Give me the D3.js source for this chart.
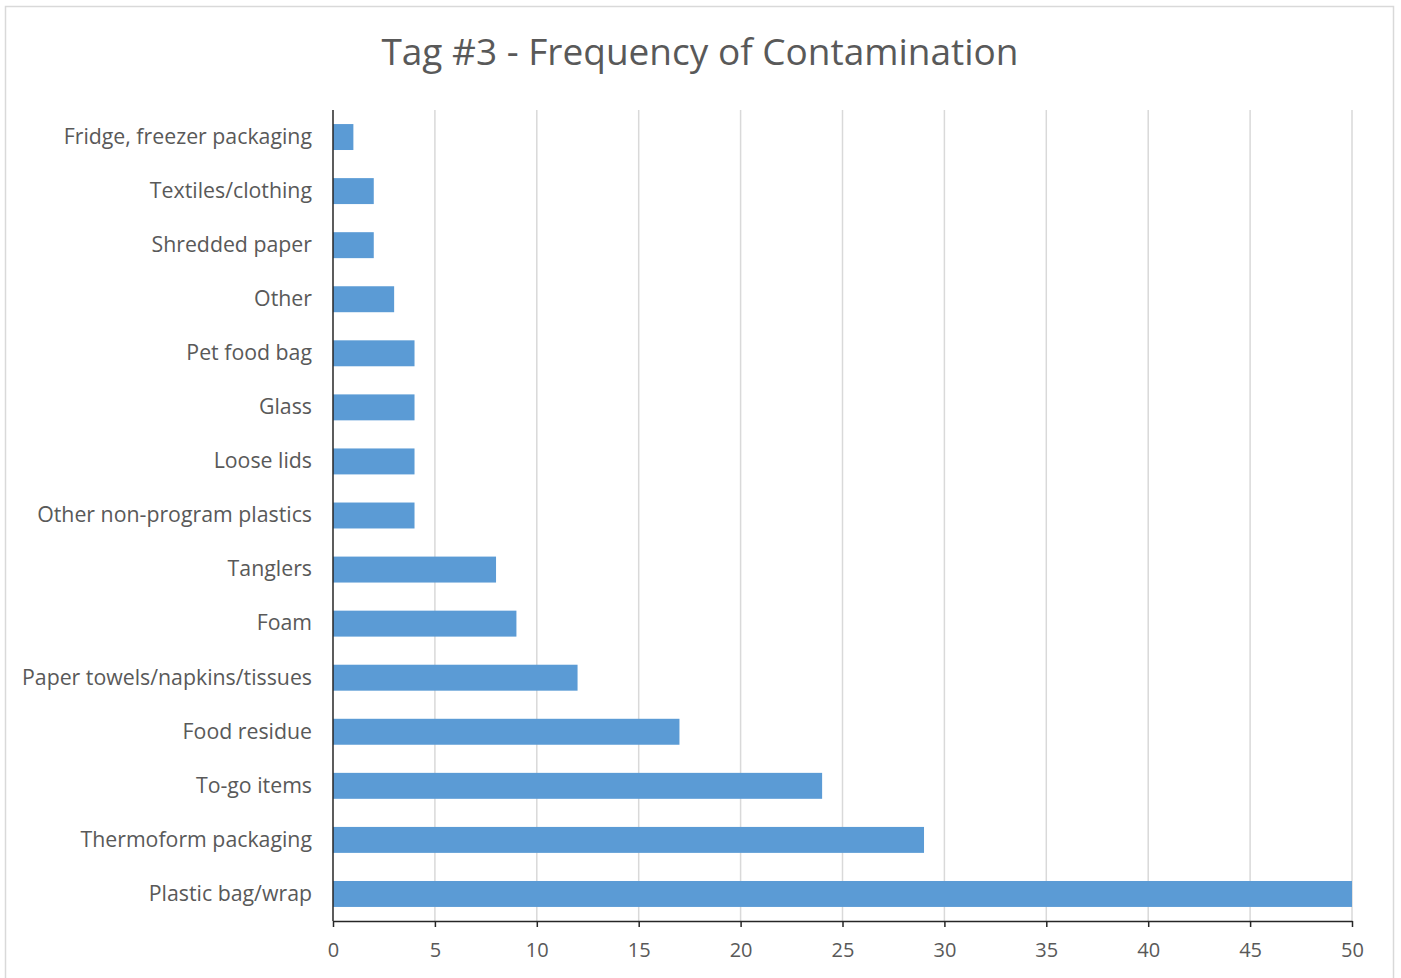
<!DOCTYPE html>
<html>
<head>
<meta charset="utf-8">
<script src="https://cdn.jsdelivr.net/npm/d3@7"></script>
<style>
  html, body { margin: 0; padding: 0; background: #fff; }
  svg { display: block; }
</style>
</head>
<body>
<svg id="chart" width="1401" height="978"></svg>
<script>
// Contamination categories, top to bottom
const categories = [
  "Fridge, freezer packaging",
  "Textiles/clothing",
  "Shredded paper",
  "Other",
  "Pet food bag",
  "Glass",
  "Loose lids",
  "Other non-program plastics",
  "Tanglers",
  "Foam",
  "Paper towels/napkins/tissues",
  "Food residue",
  "To-go items",
  "Thermoform packaging",
  "Plastic bag/wrap"
];
// Number of occurrences per category
const counts = [1, 2, 2, 3, 4, 4, 4, 4, 8, 9, 12, 17, 24, 29, 50];
const xTicks = [0, 5, 10, 15, 20, 25, 30, 35, 40, 45, 50];
const titleText = "Tag #3 - Frequency of Contamination";

const svg = d3.select("#chart");
const W = 1401, H = 978;
const margin = { left: 333, right: 49, top: 110, bottom: 57 };
const fontFamily = "'Open Sans', 'Noto Sans', sans-serif";
const textColor = "#595959";

// chart frame
svg.append("rect")
  .attr("x", 5.5).attr("y", 6.5)
  .attr("width", 1388).attr("height", 980)
  .attr("fill", "#fff").attr("stroke", "#d9d9d9").attr("stroke-width", 1.5);

const x = d3.scaleLinear().domain([0, 50]).range([margin.left, W - margin.right]);
const y = d3.scaleBand().domain(categories)
  .range([margin.top, H - margin.bottom]).paddingInner(0.52).paddingOuter(0.26);

// vertical gridlines
svg.append("g").selectAll("line")
  .data(xTicks.filter(t => t > 0))
  .join("line")
  .attr("x1", d => x(d)).attr("x2", d => x(d))
  .attr("y1", margin.top).attr("y2", H - margin.bottom)
  .attr("stroke", "#d9d9d9").attr("stroke-width", 1.5);

// bars
svg.append("g").selectAll("rect")
  .data(categories.map((c, i) => ({ c, v: counts[i] })))
  .join("rect")
  .attr("x", x(0))
  .attr("y", d => y(d.c))
  .attr("width", d => x(d.v) - x(0))
  .attr("height", y.bandwidth())
  .attr("fill", "#5b9bd5");

// x axis
const xAxis = svg.append("g")
  .attr("transform", `translate(0,${H - margin.bottom})`)
  .call(d3.axisBottom(x).tickValues(xTicks).tickSize(6).tickSizeOuter(0).tickPadding(16));
xAxis.select(".domain").attr("stroke", "#262626").attr("stroke-width", 1.5);
xAxis.selectAll(".tick line").attr("stroke", "#262626").attr("stroke-width", 1.5);
xAxis.selectAll("text")
  .attr("fill", textColor).attr("font-size", 20).attr("font-family", fontFamily);

// y axis
const yAxis = svg.append("g")
  .attr("transform", `translate(${margin.left},0)`)
  .call(d3.axisLeft(y).tickSize(0).tickPadding(21));
yAxis.select(".domain").attr("stroke", "#262626").attr("stroke-width", 1.5)
  .attr("d", `M0,${margin.top}V${H - margin.bottom}`);
yAxis.selectAll("text")
  .attr("fill", textColor).attr("font-size", 21.3).attr("font-family", fontFamily);

// title
svg.append("text")
  .attr("x", 700).attr("y", 65)
  .attr("text-anchor", "middle")
  .attr("fill", textColor)
  .attr("font-size", 37)
  .attr("font-family", fontFamily)
  .text(titleText);
</script>
</body>
</html>
